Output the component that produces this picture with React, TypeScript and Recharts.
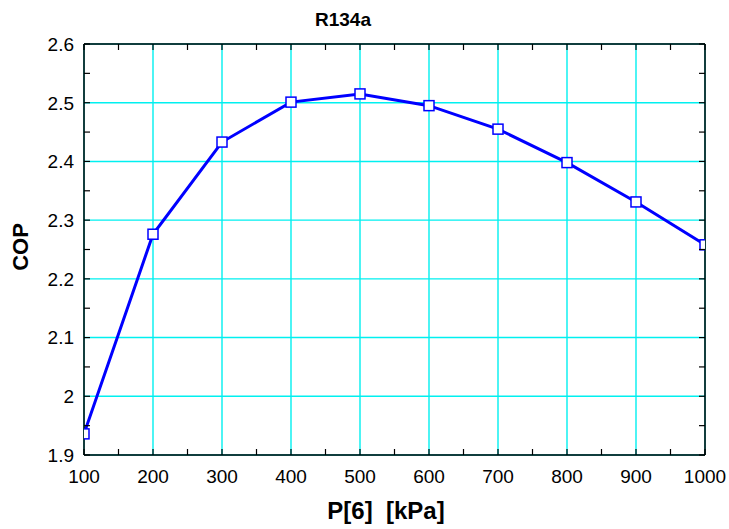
import React from 'react';
import { LineChart, Line, XAxis, YAxis, CartesianGrid, ReferenceLine } from 'recharts';

const pressures = [100, 200, 300, 400, 500, 600, 700, 800, 900, 1000];
const copValues = [1.936, 2.276, 2.433, 2.501, 2.515, 2.495, 2.455, 2.398, 2.331, 2.258];

const xTicks = [100, 150, 200, 250, 300, 350, 400, 450, 500, 550, 600, 650, 700, 750, 800, 850, 900, 950, 1000];
const xMajor = [100, 200, 300, 400, 500, 600, 700, 800, 900, 1000];
const yTicks = [1.9, 1.95, 2.0, 2.05, 2.1, 2.15, 2.2, 2.25, 2.3, 2.35, 2.4, 2.45, 2.5, 2.55, 2.6];
const yMajor = [1.9, 2.0, 2.1, 2.2, 2.3, 2.4, 2.5, 2.6];

const titleText = 'R134a';
const xLabelText = 'P[6]  [kPa]';
const yLabelText = 'COP';

const data = pressures.map((p, i) => ({ p, cop: copValues[i] }));

const W = 729;
const H = 529;
const LEFT = 84;
const RIGHT = 705;
const TOP = 44;
const BOTTOM = 455;
const TICK = 6;
const FONT = '"Liberation Sans", Arial, Helvetica, sans-serif';

const isMajor = (v: number, step: number) => Math.abs(v / step - Math.round(v / step)) < 1e-6;
const fmt = (v: number) => String(Number(v.toFixed(2)));

function YTick(props: any) {
  const { y, payload } = props;
  const v = payload.value;
  return (
    <g>
      <line x1={LEFT} x2={LEFT + TICK} y1={y} y2={y} stroke="#000" strokeWidth={1.2} />
      <line x1={RIGHT} x2={RIGHT - TICK} y1={y} y2={y} stroke="#000" strokeWidth={1.2} />
      {isMajor(v, 0.1) && (
        <text x={LEFT - 10} y={y} dy="0.36em" textAnchor="end" fontSize={19} fill="#000" fontFamily={FONT}>
          {fmt(v)}
        </text>
      )}
    </g>
  );
}

function XTick(props: any) {
  const { x, payload } = props;
  const v = payload.value;
  return (
    <g>
      <line x1={x} x2={x} y1={BOTTOM} y2={BOTTOM - TICK} stroke="#000" strokeWidth={1.2} />
      <line x1={x} x2={x} y1={TOP} y2={TOP + TICK} stroke="#000" strokeWidth={1.2} />
      {isMajor(v, 100) && (
        <text x={x} y={483} textAnchor="middle" fontSize={19} fill="#000" fontFamily={FONT}>
          {fmt(v)}
        </text>
      )}
    </g>
  );
}

function SquareDot(props: any) {
  const { cx, cy, index } = props;
  if (cx == null || cy == null) return null;
  return (
    <rect
      key={`dot-${index}`}
      x={cx - 5}
      y={cy - 5}
      width={10}
      height={10}
      fill="#ffffff"
      stroke="#0000ff"
      strokeWidth={1.5}
    />
  );
}

function XLabel() {
  return (
    <g>
      <text x={343} y={26} textAnchor="middle" fontSize={19} fontWeight="bold" fill="#000" fontFamily={FONT}>
        {titleText}
      </text>
      <text
        x={386}
        y={519}
        textAnchor="middle"
        fontSize={24}
        fontWeight="bold"
        fill="#000"
        fontFamily={FONT}
        style={{ whiteSpace: 'pre' }}
      >
        {xLabelText}
      </text>
    </g>
  );
}

function YLabel() {
  return (
    <text
      x={28}
      y={247}
      transform="rotate(-90, 28, 247)"
      textAnchor="middle"
      fontSize={22}
      fontWeight="bold"
      fill="#000"
      fontFamily={FONT}
    >
      {yLabelText}
    </text>
  );
}

export default function App() {
  return (
    <div style={{ position: 'absolute', left: 0, top: 0, width: W, height: H, background: '#fff' }}>
      <LineChart
        width={W}
        height={H}
        data={data}
        margin={{ top: TOP, right: W - RIGHT, left: 0, bottom: 0 }}
        style={{ fontFamily: FONT }}
      >
        <CartesianGrid
          stroke="#00f0f0"
          strokeWidth={1.4}
          horizontalValues={yMajor}
          verticalValues={xMajor}
        />
        <XAxis
          dataKey="p"
          type="number"
          domain={[100, 1000]}
          ticks={xTicks}
          interval={0}
          allowDataOverflow
          height={H - BOTTOM}
          tickLine={false}
          axisLine={{ stroke: '#000', strokeWidth: 1.5 }}
          tick={(p: any) => <XTick {...p} />}
          label={<XLabel />}
        />
        <YAxis
          type="number"
          domain={[1.9, 2.6]}
          ticks={yTicks}
          interval={0}
          allowDataOverflow
          width={LEFT}
          tickLine={false}
          axisLine={{ stroke: '#000', strokeWidth: 1.5 }}
          tick={(p: any) => <YTick {...p} />}
          label={<YLabel />}
        />
        <Line
          type="linear"
          dataKey="cop"
          stroke="#0000ff"
          strokeWidth={3}
          dot={(p: any) => <SquareDot {...p} />}
          activeDot={false}
          isAnimationActive={false}
        />
        <ReferenceLine y={2.6} stroke="#000" strokeWidth={1.5} />
        <ReferenceLine x={1000} stroke="#000" strokeWidth={1.5} />
      </LineChart>
    </div>
  );
}
